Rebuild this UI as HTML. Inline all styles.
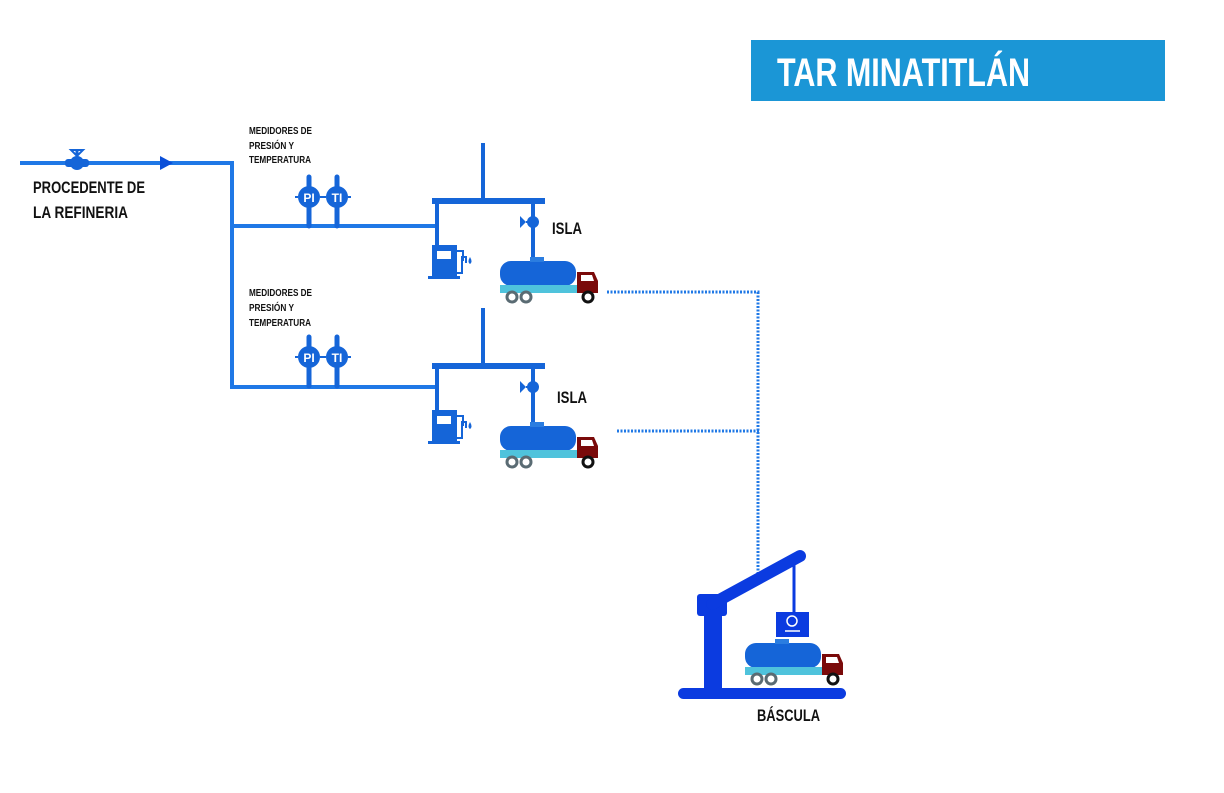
<!DOCTYPE html>
<html><head><meta charset="utf-8"><style>
body{margin:0;background:#fff}
svg{display:block}
text{font-family:"Liberation Sans",sans-serif;font-weight:bold}
</style></head><body>
<svg width="1224" height="793" viewBox="0 0 1224 793" xmlns="http://www.w3.org/2000/svg">
<defs>
<g id="truck">
  <rect x="0" y="0" width="76" height="25" rx="11" fill="#1565d8"/>
  <rect x="30" y="-4" width="14" height="5" fill="#2b7de0"/>
  <rect x="0" y="24" width="84" height="8" fill="#4fc3dc"/>
  <path d="M77 11 H94 L98 20 V32 H77 Z" fill="#7a0a0a"/>
  <path d="M81 14 H92 L94 20 H81 Z" fill="#fff"/>
  <circle cx="12" cy="36" r="5" fill="#fff" stroke="#5a6b73" stroke-width="3"/>
  <circle cx="26" cy="36" r="5" fill="#fff" stroke="#5a6b73" stroke-width="3"/>
  <circle cx="88" cy="36" r="5" fill="#fff" stroke="#111" stroke-width="3"/>
</g>
<g id="meter">
  <line x1="0" y1="-20" x2="0" y2="29" stroke="#1565d8" stroke-width="5" stroke-linecap="round"/>
  <circle cx="0" cy="0" r="11" fill="#1565d8"/>
  <line x1="-14" y1="0" x2="-11" y2="0" stroke="#1565d8" stroke-width="2"/>
  <line x1="11" y1="0" x2="14" y2="0" stroke="#1565d8" stroke-width="2"/>
</g>
<g id="island">
  <line x1="432" y1="0" x2="545" y2="0" stroke="#1565d8" stroke-width="6"/>
  <line x1="483" y1="-58" x2="483" y2="0" stroke="#1565d8" stroke-width="4"/>
  <line x1="437" y1="0" x2="437" y2="46" stroke="#1565d8" stroke-width="4"/>
  <rect x="432" y="44" width="25" height="33" fill="#1565d8"/>
  <rect x="437" y="50" width="14" height="8" fill="#fff"/>
  <rect x="428" y="75" width="32" height="3" fill="#1565d8"/>
  <path d="M457 50 H463 V60 M457 72 H462 V56 H466 V62" stroke="#1565d8" stroke-width="2" fill="none"/>
  <path d="M470 56 q-3 5 0 7 q3 -2 0 -7z" fill="#1565d8"/>
  <line x1="533" y1="0" x2="533" y2="57" stroke="#1565d8" stroke-width="4"/>
  <circle cx="533" cy="21" r="6" fill="#1565d8"/>
  <path d="M520 15 L526 21 L520 27Z" fill="#1565d8"/>
  <line x1="526" y1="21" x2="528" y2="21" stroke="#1565d8" stroke-width="2"/>
</g>
</defs>

<rect x="751" y="40" width="414" height="61" fill="#1b96d6"/>
<text x="777" y="86" fill="#fff" font-size="40" textLength="253" lengthAdjust="spacingAndGlyphs">TAR MINATITLÁN</text>

<line x1="20" y1="163" x2="234" y2="163" stroke="#1f78e6" stroke-width="4"/>
<path d="M160 156 L173 163 L160 170Z" fill="#0b4fd8"/>
<rect x="65" y="159" width="24" height="8" rx="3" fill="#1565d8"/>
<circle cx="77" cy="163" r="7" fill="#1565d8"/>
<line x1="77" y1="150" x2="77" y2="157" stroke="#1565d8" stroke-width="3"/>
<path d="M71 150 H83 L77 156Z" fill="none" stroke="#1565d8" stroke-width="2"/>
<line x1="232" y1="163" x2="232" y2="389" stroke="#1f78e6" stroke-width="4"/>
<line x1="232" y1="226" x2="437" y2="226" stroke="#1f78e6" stroke-width="4"/>
<line x1="232" y1="387" x2="437" y2="387" stroke="#1f78e6" stroke-width="4"/>

<text x="33" y="193" font-size="17" fill="#111" textLength="112" lengthAdjust="spacingAndGlyphs">PROCEDENTE DE</text>
<text x="33" y="218" font-size="17" fill="#111" textLength="95" lengthAdjust="spacingAndGlyphs">LA REFINERIA</text>

<g font-size="10" fill="#111">
<text x="249" y="134" textLength="63" lengthAdjust="spacingAndGlyphs">MEDIDORES DE</text>
<text x="249" y="149" textLength="45" lengthAdjust="spacingAndGlyphs">PRESIÓN Y</text>
<text x="249" y="163" textLength="62" lengthAdjust="spacingAndGlyphs">TEMPERATURA</text>
<text x="249" y="296" textLength="63" lengthAdjust="spacingAndGlyphs">MEDIDORES DE</text>
<text x="249" y="311" textLength="45" lengthAdjust="spacingAndGlyphs">PRESIÓN Y</text>
<text x="249" y="326" textLength="62" lengthAdjust="spacingAndGlyphs">TEMPERATURA</text>
</g>

<use href="#meter" x="309" y="197"/>
<use href="#meter" x="337" y="197"/>
<use href="#meter" x="309" y="357"/>
<use href="#meter" x="337" y="357"/>
<g fill="#fff" font-size="12" text-anchor="middle">
<text x="309" y="202">PI</text><text x="337" y="202">TI</text>
<text x="309" y="362">PI</text><text x="337" y="362">TI</text>
</g>

<use href="#island" x="0" y="201"/>
<use href="#island" x="0" y="366"/>
<text x="552" y="234" font-size="17" fill="#111" textLength="30" lengthAdjust="spacingAndGlyphs">ISLA</text>
<text x="557" y="403" font-size="17" fill="#111" textLength="30" lengthAdjust="spacingAndGlyphs">ISLA</text>

<use href="#truck" x="500" y="261"/>
<use href="#truck" x="500" y="426"/>

<g stroke="#1f78e6" stroke-width="3" stroke-dasharray="2 1.5" fill="none">
<line x1="607" y1="292" x2="760" y2="292"/>
<line x1="617" y1="431" x2="760" y2="431"/>
<line x1="758" y1="292" x2="758" y2="576"/>
</g>

<rect x="678" y="688" width="168" height="11" rx="5.5" fill="#0b3be0"/>
<rect x="704" y="600" width="18" height="90" fill="#0b3be0"/>
<rect x="697" y="594" width="30" height="22" rx="3" fill="#0b3be0"/>
<line x1="712" y1="604" x2="800" y2="556" stroke="#0b3be0" stroke-width="12" stroke-linecap="round"/>
<line x1="794" y1="560" x2="794" y2="614" stroke="#0b3be0" stroke-width="3"/>
<rect x="776" y="612" width="33" height="25" fill="#0b3be0"/>
<circle cx="792" cy="621" r="5" fill="none" stroke="#fff" stroke-width="1.5"/>
<line x1="785" y1="631" x2="800" y2="631" stroke="#fff" stroke-width="1.5"/>
<use href="#truck" x="745" y="643"/>
<text x="757" y="721" font-size="17" fill="#111" textLength="63" lengthAdjust="spacingAndGlyphs">BÁSCULA</text>
</svg>
</body></html>
